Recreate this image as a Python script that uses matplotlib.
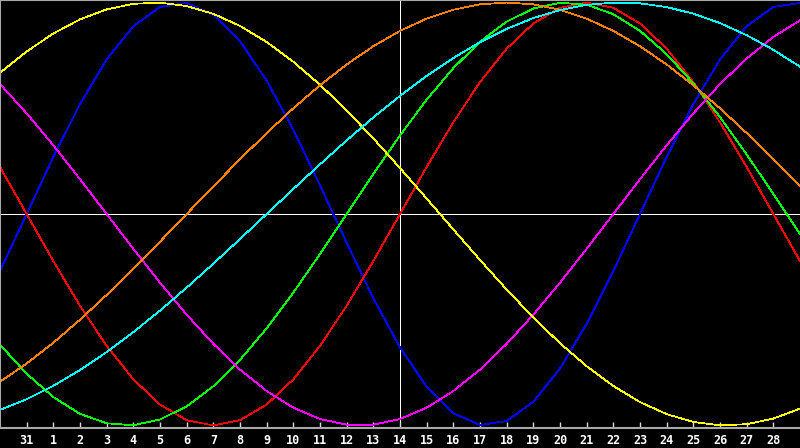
import matplotlib
matplotlib.use('Agg')
import matplotlib.pyplot as plt

# days shown along the bottom (30 of last month .. 29 of this month)
days = list(range(31))
tick_days = list(range(1, 30))
tick_labels = ['31'] + [str(d) for d in range(1, 29)]
today = 15

# daily values of each cycle, -1 .. 1
physical = [-0.2698, 0.0, 0.2698, 0.5196, 0.7308, 0.8879, 0.9791, 0.9977, 0.9423, 0.8170,
            0.6310, 0.3984, 0.1362, -0.1362, -0.3984, -0.6310, -0.8170, -0.9423, -0.9977, -0.9791,
            -0.8879, -0.7308, -0.5196, -0.2698, 0.0, 0.2698, 0.5196, 0.7308, 0.8879, 0.9791, 0.9977]
emotional = [0.2225, 0.0, -0.2225, -0.4339, -0.6235, -0.7818, -0.9010, -0.9749, -1.0, -0.9749,
             -0.9010, -0.7818, -0.6235, -0.4339, -0.2225, 0.0, 0.2225, 0.4339, 0.6235, 0.7818,
             0.9010, 0.9749, 1.0, 0.9749, 0.9010, 0.7818, 0.6235, 0.4339, 0.2225, 0.0, -0.2225]
intellectual = [-0.6182, -0.7557, -0.8660, -0.9450, -0.9898, -0.9989, -0.9718, -0.9096, -0.8146, -0.6901,
                -0.5406, -0.3717, -0.1893, 0.0, 0.1893, 0.3717, 0.5406, 0.6901, 0.8146, 0.9096,
                0.9718, 0.9989, 0.9898, 0.9450, 0.8660, 0.7557, 0.6182, 0.4582, 0.2817, 0.0951, -0.0951]
intuitive = [0.6142, 0.4759, 0.3247, 0.1646, 0.0, -0.1646, -0.3247, -0.4759, -0.6142, -0.7357,
             -0.8372, -0.9158, -0.9694, -0.9966, -0.9966, -0.9694, -0.9158, -0.8372, -0.7357, -0.6142,
             -0.4759, -0.3247, -0.1646, 0.0, 0.1646, 0.3247, 0.4759, 0.6142, 0.7357, 0.8372, 0.9158]
aesthetic = [0.6673, 0.7686, 0.8536, 0.9203, 0.9675, 0.9940, 0.9993, 0.9834, 0.9465, 0.8894,
             0.8133, 0.7199, 0.6112, 0.4894, 0.3572, 0.2174, 0.0730, -0.0730, -0.2174, -0.3572,
             -0.4894, -0.6112, -0.7199, -0.8133, -0.8894, -0.9465, -0.9834, -0.9993, -0.9940, -0.9675, -0.9203]
awareness = [-0.7934, -0.7071, -0.6088, -0.5, -0.3827, -0.2588, -0.1305, 0.0, 0.1305, 0.2588,
             0.3827, 0.5, 0.6088, 0.7071, 0.7934, 0.8660, 0.9239, 0.9659, 0.9914, 1.0,
             0.9914, 0.9659, 0.9239, 0.8660, 0.7934, 0.7071, 0.6088, 0.5, 0.3827, 0.2588, 0.1305]
spiritual = [-0.9267, -0.8757, -0.8125, -0.7378, -0.6529, -0.5586, -0.4566, -0.3482, -0.2349, -0.1183,
             0.0, 0.1183, 0.2349, 0.3482, 0.4566, 0.5586, 0.6529, 0.7378, 0.8125, 0.8757,
             0.9267, 0.9646, 0.9890, 0.9996, 0.9961, 0.9786, 0.9473, 0.9028, 0.8456, 0.7765, 0.6966]

series = [
    (physical, '#0000ff'),
    (emotional, '#ff0000'),
    (intellectual, '#00ff00'),
    (intuitive, '#ff00ff'),
    (aesthetic, '#ffff00'),
    (awareness, '#ff8000'),
    (spiritual, '#00ffff'),
]

fig = plt.figure(figsize=(8, 4.48), dpi=100, facecolor='black')
ax = fig.add_axes([0, 20 / 448, 1, 428 / 448])
ax.set_facecolor('black')

# white cross: zero line and today
ax.axhline(0, color='white', lw=0.6, antialiased=False, zorder=1)
ax.axvline(today, color='white', lw=0.6, antialiased=False, zorder=1)

for vals, col in series:
    ax.plot(days, vals, color=col, lw=0.55, antialiased=False, zorder=2)

ax.set_xlim(0, 30)
ax.set_ylim(-1.012, 1.012)
ax.set_yticks([])
ax.set_xticks(tick_days)
ax.set_xticklabels(tick_labels)
ax.tick_params(axis='x', direction='in', length=4, width=1.0, color='#d8d8d8',
               pad=4.5, labelsize=8.5, labelcolor='white')
for lab in ax.get_xticklabels():
    lab.set_fontweight('bold')
    lab.set_family('DejaVu Sans Mono')

for side in ['left', 'top', 'bottom']:
    ax.spines[side].set_color('#a8a8a8')
    ax.spines[side].set_linewidth(1.5)
ax.spines['right'].set_visible(False)

fig.savefig('out.png', dpi=100, facecolor='black')
